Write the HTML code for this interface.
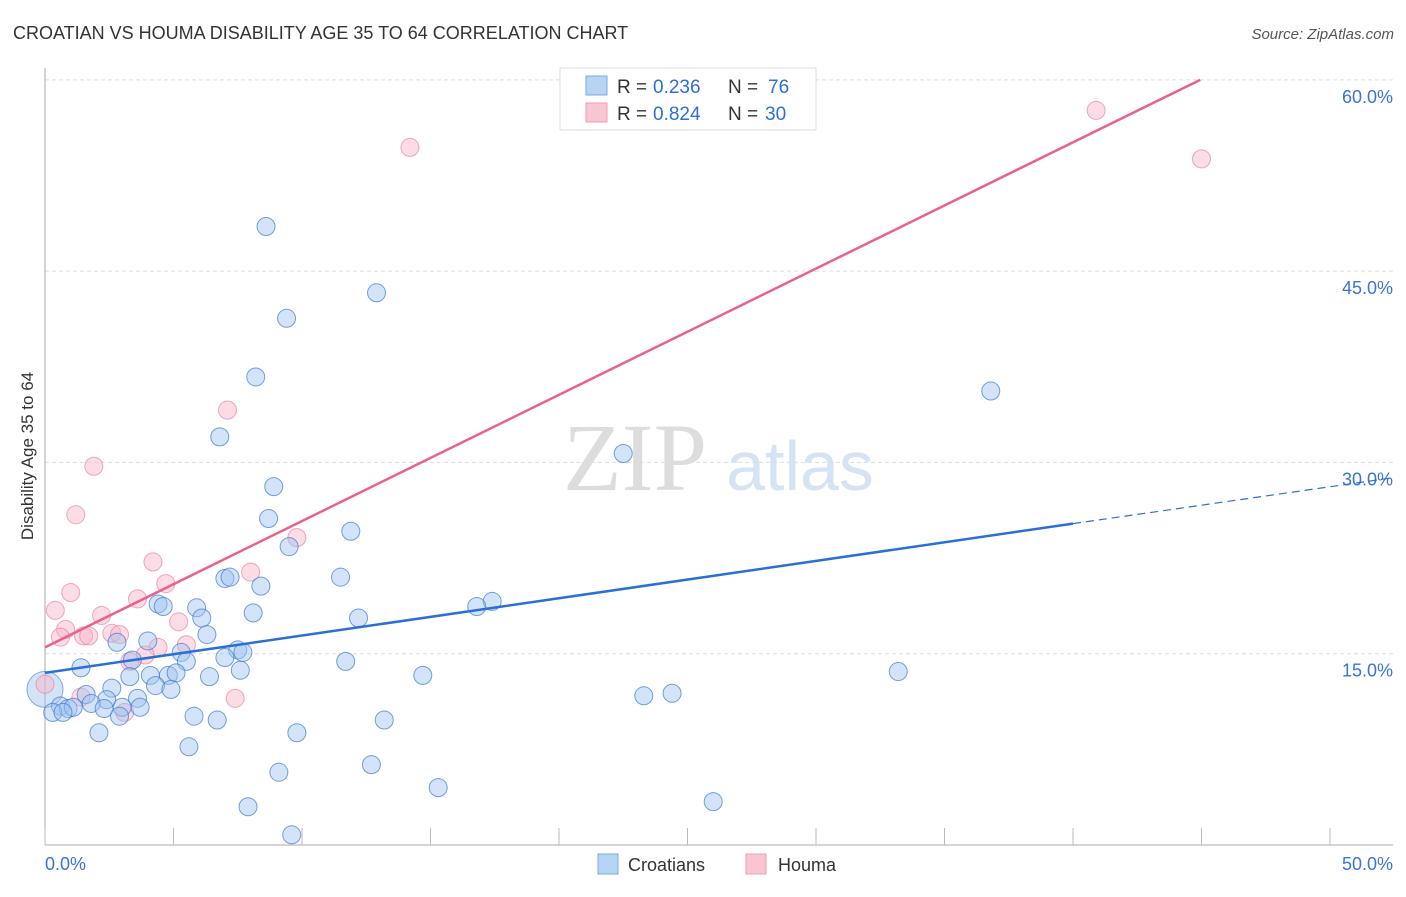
<!DOCTYPE html>
<html><head><meta charset="utf-8"><style>
body{margin:0;background:#fff;font-family:"Liberation Sans",sans-serif;}
</style></head><body>
<svg width="1406" height="892" xmlns="http://www.w3.org/2000/svg" font-family="Liberation Sans, sans-serif">
<text x="13" y="39" font-size="18" fill="#333">CROATIAN VS HOUMA DISABILITY AGE 35 TO 64 CORRELATION CHART</text>
<text x="1394" y="39" font-size="15" fill="#555" font-style="italic" text-anchor="end">Source: ZipAtlas.com</text>
<text x="635" y="490" font-size="96" fill="#ddd" font-family="Liberation Serif, serif" text-anchor="middle">ZIP</text>
<text x="800" y="490" font-size="70" fill="#d5e3f5" text-anchor="middle">atlas</text>
<g id="grid"></g>
<g id="axes"></g>
<g id="marks"></g>
<text transform="translate(33,456) rotate(-90)" font-size="17" fill="#333" text-anchor="middle">Disability Age 35 to 64</text>
<g>
<rect x="560" y="68" width="256" height="62" fill="#fff" stroke="#ddd"/>
<rect x="586" y="76" width="21" height="19" fill="#b8d4f5" stroke="#7aa8e0"/>
<text x="617" y="93" font-size="19" fill="#333">R =</text>
<text x="653" y="93" font-size="19" fill="#2d6fd6">0.236</text>
<text x="728" y="93" font-size="19" fill="#333">N =</text>
<text x="768" y="93" font-size="19" fill="#2d6fd6">76</text>
<rect x="586" y="103" width="21" height="19" fill="#f9c5d3" stroke="#ee9bb3"/>
<text x="617" y="120" font-size="19" fill="#333">R =</text>
<text x="653" y="120" font-size="19" fill="#2d6fd6">0.824</text>
<text x="728" y="120" font-size="19" fill="#333">N =</text>
<text x="765" y="120" font-size="19" fill="#2d6fd6">30</text>
</g>
<g>
<rect x="598" y="854" width="20" height="20" fill="#b8d4f5" stroke="#7aa8e0"/>
<text x="628" y="871" font-size="18" fill="#333">Croatians</text>
<rect x="746" y="854" width="20" height="20" fill="#f9c5d3" stroke="#ee9bb3"/>
<text x="778" y="871" font-size="18" fill="#333">Houma</text>
</g>
</svg>
<script>
const blueX=[8.6,12.9,9.4,8.2,6.8,36.8,22.5,8.9,8.7,11.9,9.5,11.5,7.0,7.2,8.4,17.4,16.8,4.4,4.6,5.9,8.1,6.1,12.2,6.3,2.8,4.0,7.5,7.7,5.3,5.5,7.0,7.6,3.4,1.4,11.7,33.2,14.7,4.1,4.8,5.1,3.3,6.4,4.3,4.9,2.6,23.3,24.4,1.6,2.4,3.6,1.8,0.6,0.9,1.1,2.3,3.7,3.0,0.3,0.7,2.9,5.8,6.7,13.2,2.1,9.8,5.6,9.1,12.7,15.3,26.0,7.9,9.6];
const blueY=[48.5,43.3,41.3,36.7,32.0,35.6,30.7,28.1,25.6,24.6,23.4,21.0,20.9,21.0,20.3,19.1,18.7,18.9,18.7,18.6,18.2,17.8,17.8,16.5,15.9,16.0,15.3,15.1,15.1,14.4,14.7,13.7,14.5,13.9,14.4,13.6,13.3,13.3,13.3,13.5,13.2,13.2,12.5,12.2,12.3,11.7,11.9,11.8,11.4,11.5,11.1,10.9,10.7,10.8,10.7,10.8,10.8,10.4,10.4,10.1,10.1,9.8,9.8,8.8,8.8,7.7,5.7,6.3,4.5,3.4,3.0,0.8];
const pinkX=[40.9,14.2,45.0,7.1,1.9,1.2,9.8,4.2,8.0,4.7,1.0,3.6,0.4,2.2,5.2,0.8,0.6,1.5,1.7,2.6,2.9,4.4,5.5,3.9,3.3,7.4,1.4,3.1,0.0];
const pinkY=[57.6,54.7,53.8,34.1,29.7,25.9,24.1,22.2,21.4,20.5,19.8,19.3,18.4,18.0,17.5,16.9,16.3,16.4,16.4,16.6,16.5,15.5,15.7,14.9,14.4,11.5,11.6,10.4,12.6];
const blueBig=[0,12.2];
const blueTrend=[0,13.5,40,25.2,52.45,28.8];
const pinkTrend=[0,15.5,44.95,60];
const yTicks=[15,30,45,60];
const xTickVals=[0,5,10,15,20,25,30,35,40,45,50];
const NS='http://www.w3.org/2000/svg';
const sx=v=>45+v*25.7, sy=v=>845-v*12.753;
function mk(tag,attrs,parent){const e=document.createElementNS(NS,tag);for(const k in attrs)e.setAttribute(k,attrs[k]);document.getElementById(parent).appendChild(e);return e;}
yTicks.forEach(t=>{
 const l=mk('line',{x1:45,x2:1393,y1:sy(t),y2:sy(t),stroke:'#ddd','stroke-dasharray':'4,3'},'grid');
 
 
 const tx=mk('text',{x:1393,y:sy(t)+23,'font-size':18,fill:'#3a74d6','text-anchor':'end'},'grid');
 tx.textContent=t.toFixed(1)+'%';
 
 
});
mk('line',{x1:45,x2:45,y1:68,y2:845,stroke:'#aaa'},'axes');
mk('line',{x1:45,x2:1393,y1:845,y2:845,stroke:'#aaa'},'axes');
xTickVals.forEach(t=>{
 const l=mk('line',{x1:sx(t),x2:sx(t),y1:828,y2:845,stroke:'#bbb'},'axes');
 
 
});
[[0,'0.0%','start',45],[50,'50.0%','end',1393]].forEach(a=>{
 const tx=mk('text',{x:a[3],y:870,'font-size':18,fill:'#3a74d6','text-anchor':a[2]},'axes');
 tx.textContent=a[1];
 
 
});
const big=mk('circle',{cx:sx(blueBig[0]),cy:sy(blueBig[1]),r:18,fill:'rgba(160,195,240,0.45)',stroke:'rgba(60,120,210,0.6)'},'marks');


pinkX.forEach((x,i)=>{
 const c=mk('circle',{cx:sx(x),cy:sy(pinkY[i]),r:9,fill:'rgba(248,180,200,0.45)',stroke:'rgba(235,130,160,0.7)'},'marks');
 
 
});
blueX.forEach((x,i)=>{
 const c=mk('circle',{cx:sx(x),cy:sy(blueY[i]),r:9,fill:'rgba(160,195,240,0.45)',stroke:'rgba(60,120,210,0.7)'},'marks');
 
 
});
const bl=mk('line',{x1:sx(blueTrend[0]),y1:sy(blueTrend[1]),x2:sx(blueTrend[2]),y2:sy(blueTrend[3]),stroke:'#2a6fd6','stroke-width':2.5},'marks');


const bd=mk('line',{x1:sx(blueTrend[2]),y1:sy(blueTrend[3]),x2:sx(blueTrend[4]),y2:sy(blueTrend[5]),stroke:'#2a6fd6','stroke-width':1.2,'stroke-dasharray':'8,5'},'marks');


const pl=mk('line',{x1:sx(pinkTrend[0]),y1:sy(pinkTrend[1]),x2:sx(pinkTrend[2]),y2:sy(pinkTrend[3]),stroke:'#e8628c','stroke-width':2.5},'marks');


</script>
</body></html>
